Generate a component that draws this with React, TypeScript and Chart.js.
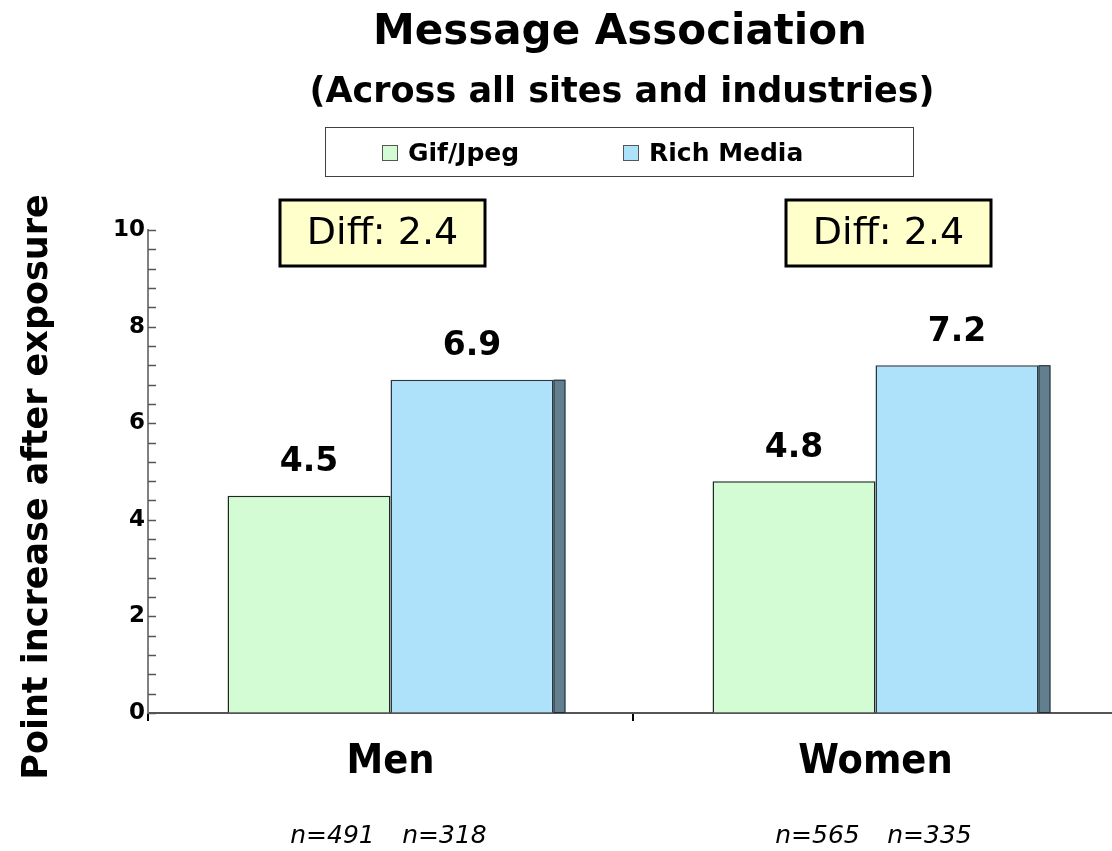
import React, { useEffect, useRef } from "react";
import { Chart, registerables } from "chart.js";

Chart.register(...registerables);

const categories = ["Men", "Women"];
const seriesNames = ["Gif/Jpeg", "Rich Media"];
const gifJpeg = [4.5, 4.8];
const richMedia = [6.9, 7.2];
const nGifJpeg = ["n=491", "n=565"];
const nRichMedia = ["n=318", "n=335"];
const yMajorTicks = [0, 2, 4, 6, 8, 10];
const yMinorStep = 0.4;
const titleText = "Message Association";
const subtitleText = "(Across all sites and industries)";
const yAxisTitle = "Point increase after exposure";

const SANS = '"DejaVu Sans", Verdana, sans-serif';
const COND = '"DejaVu Sans Condensed", "DejaVu Sans", sans-serif';
const DIFF_SHIFT = [-8, 13];

const decorPlugin = {
  id: "decor",
  afterDatasetsDraw(chart: any) {
    const ctx = chart.ctx;
    ctx.save();
    // 3D side edge of rich media bars
    const metaR = chart.getDatasetMeta(1);
    metaR.data.forEach((bar: any) => {
      const p = bar.getProps(["x", "y", "width", "base"], true);
      const right = p.x + p.width / 2;
      ctx.fillStyle = "#637f8f";
      ctx.fillRect(right, p.y, 12, p.base - p.y);
      ctx.strokeStyle = "#1f2d36";
      ctx.lineWidth = 1;
      ctx.strokeRect(right + 0.5, p.y + 0.5, 11, p.base - p.y - 0.5);
    });
    // value labels
    ctx.fillStyle = "#000";
    ctx.textAlign = "center";
    ctx.textBaseline = "middle";
    ctx.font = `bold 33px ${SANS}`;
    chart.data.datasets.forEach((ds: any, di: number) => {
      const meta = chart.getDatasetMeta(di);
      meta.data.forEach((bar: any, i: number) => {
        const p = bar.getProps(["x", "y"], true);
        ctx.fillText(Number(ds.data[i]).toFixed(1), p.x, p.y - 33);
      });
    });
    ctx.restore();
  },
  afterDraw(chart: any) {
    const ctx = chart.ctx;
    const xs = chart.scales.x;
    const ys = chart.scales.y;
    ctx.save();
    ctx.fillStyle = "#000";
    ctx.textAlign = "center";
    ctx.textBaseline = "alphabetic";
    // titles
    ctx.font = `bold 42px ${SANS}`;
    ctx.fillText(titleText, 620, 44);
    ctx.font = `bold 35px ${SANS}`;
    ctx.fillText(subtitleText, 622, 102);
    // legend
    ctx.textBaseline = "middle";
    ctx.strokeStyle = "#404040";
    ctx.lineWidth = 1;
    ctx.strokeRect(325.5, 127.5, 588, 49);
    const legendX = [382, 623];
    chart.data.datasets.forEach((d: any, i: number) => {
      ctx.fillStyle = d.backgroundColor;
      ctx.fillRect(legendX[i], 145, 16, 16);
      ctx.strokeStyle = "#555";
      ctx.strokeRect(legendX[i] + 0.5, 145.5, 15, 15);
      ctx.fillStyle = "#000";
      ctx.textAlign = "left";
      ctx.font = `bold 25px ${SANS}`;
      ctx.fillText(d.label, legendX[i] + 26, 154);
    });
    // y axis title
    ctx.save();
    ctx.translate(38, 487);
    ctx.rotate(-Math.PI / 2);
    ctx.textAlign = "center";
    ctx.font = `bold 35px ${SANS}`;
    ctx.fillText(yAxisTitle, 0, 0);
    ctx.restore();
    // inward tick marks on y axis
    ctx.strokeStyle = "#555";
    ctx.lineWidth = 1.5;
    const x0 = ys.right;
    ys.ticks.forEach((t: any) => {
      const py = Math.round(ys.getPixelForValue(t.value)) + 0.5;
      ctx.beginPath();
      ctx.moveTo(x0, py);
      ctx.lineTo(x0 + 8, py);
      ctx.stroke();
    });
    // diff boxes
    categories.forEach((_c, i) => {
      const cx = xs.getPixelForValue(i) + DIFF_SHIFT[i];
      const w = 205;
      const h = 66;
      const top = 200;
      ctx.fillStyle = "#ffffcc";
      ctx.fillRect(cx - w / 2, top, w, h);
      ctx.strokeStyle = "#000";
      ctx.lineWidth = 3;
      ctx.strokeRect(cx - w / 2, top, w, h);
      ctx.fillStyle = "#000";
      ctx.textAlign = "center";
      ctx.font = `38px ${SANS}`;
      ctx.fillText(`Diff: ${(richMedia[i] - gifJpeg[i]).toFixed(1)}`, cx, top + h / 2 + 1);
    });
    // n labels
    ctx.font = `italic 25px ${SANS}`;
    categories.forEach((_c, i) => {
      const cx = xs.getPixelForValue(i);
      ctx.fillText(nGifJpeg[i], cx - 58, 836);
      ctx.fillText(nRichMedia[i], cx + 54, 836);
    });
    ctx.restore();
  },
};

export default function App() {
  const ref = useRef<HTMLCanvasElement | null>(null);
  useEffect(() => {
    if (!ref.current) return;
    const chart = new Chart(ref.current, {
      type: "bar",
      data: {
        labels: categories,
        datasets: [
          {
            label: seriesNames[0],
            data: gifJpeg,
            backgroundColor: "#d4fcd4",
            borderColor: "#1c2a1c",
            borderWidth: 1.5,
            barPercentage: 1,
            categoryPercentage: 0.672,
          },
          {
            label: seriesNames[1],
            data: richMedia,
            backgroundColor: "#aee2fb",
            borderColor: "#2a3a44",
            borderWidth: 1.5,
            barPercentage: 1,
            categoryPercentage: 0.672,
          },
        ],
      },
      options: {
        responsive: false,
        animation: false,
        devicePixelRatio: 1,
        layout: { padding: { top: 230, left: 0, right: 0, bottom: 0 } },
        plugins: {
          legend: { display: false },
          title: { display: false },
          tooltip: { enabled: false },
        },
        scales: {
          x: {
            offset: true,
            grid: {
              display: true,
              drawOnChartArea: false,
              drawTicks: true,
              tickLength: 8,
              color: "#000",
              lineWidth: 2,
              offset: true,
            },
            border: { display: true, color: "#555", width: 2 },
            ticks: {
              font: { family: COND, size: 41, weight: "bold" },
              color: "#000",
              padding: 17,
            },
            afterFit: (s: any) => {
              s.height = 138;
            },
          },
          y: {
            min: 0,
            max: 10,
            afterBuildTicks: (s: any) => {
              const ticks = [];
              const n = Math.round(10 / yMinorStep);
              for (let i = 0; i <= n; i++) {
                ticks.push({ value: Math.round(i * yMinorStep * 10) / 10 });
              }
              s.ticks = ticks;
            },
            ticks: {
              autoSkip: false,
              callback: (v: any) => (yMajorTicks.includes(Number(v)) ? String(v) : ""),
              font: { family: SANS, size: 23, weight: "bold" },
              color: "#000",
              padding: 3,
            },
            grid: { display: true, drawOnChartArea: false, drawTicks: false },
            border: { display: true, color: "#808080", width: 2 },
            afterFit: (s: any) => {
              s.width = 148;
            },
          },
        },
      },
      plugins: [decorPlugin],
    } as any);
    return () => chart.destroy();
  }, []);
  return (
    <div
      style={{
        position: "fixed",
        left: 0,
        top: 0,
        width: 1112,
        height: 851,
        overflow: "hidden",
        background: "#fff",
      }}
    >
      <canvas ref={ref} width={1118} height={851} style={{ display: "block" }} />
    </div>
  );
}
